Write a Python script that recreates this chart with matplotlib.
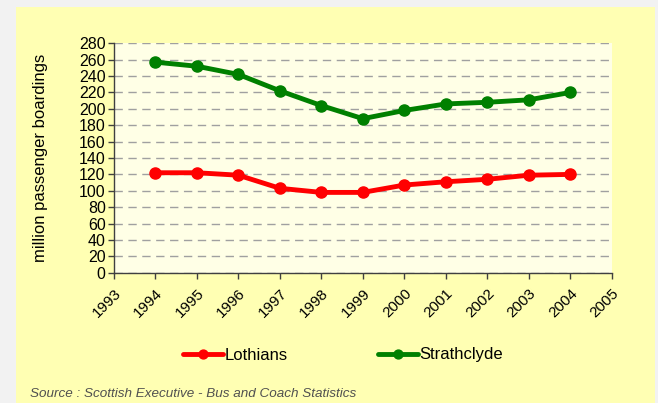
import matplotlib.pyplot as plt
from matplotlib.patches import Rectangle

# Bus passenger boardings, Lothians vs Strathclyde
years = [1994, 1995, 1996, 1997, 1998, 1999, 2000, 2001, 2002, 2003, 2004]
lothians = [122, 122, 119, 103, 98, 98, 107, 111, 114, 119, 120]
strathclyde = [257, 252, 242, 222, 204, 188, 198, 206, 208, 211, 220]
tick_years = list(range(1993, 2006))
y_ticks = list(range(0, 281, 20))

plt.rcParams['font.family'] = ['Liberation Sans', 'DejaVu Sans']

fig = plt.figure(figsize=(6.58, 4.03), dpi=100, facecolor='#F2F2F2')
W, H = 658, 403
# yellow chart area
fig.patches.append(Rectangle((16 / W, 0), (655 - 16) / W, (H - 7) / H,
                             transform=fig.transFigure, facecolor='#FFFFB3',
                             edgecolor='none', zorder=0))

ax = fig.add_axes([114 / W, 130.3 / H, (611.7 - 114) / W, (272.7 - 43.3) / H])
ax.set_zorder(2)
ax.set_facecolor('#FFFFE6')

ax.plot(years, lothians, color='#FF0000', lw=3.5, marker='o', ms=8,
        label='Lothians', solid_capstyle='round', clip_on=False)
ax.plot(years, strathclyde, color='#008000', lw=3.5, marker='o', ms=8,
        label='Strathclyde', solid_capstyle='round', clip_on=False)

ax.set_xlim(1993, 2005)
ax.set_ylim(0, 280)
ax.set_xticks(tick_years)
ax.set_xticklabels([str(y) for y in tick_years], rotation=45, ha='right',
                   rotation_mode='anchor', fontsize=11)
ax.set_yticks(y_ticks)
ax.set_yticklabels([str(v) for v in y_ticks], fontsize=11.5)
ax.yaxis.grid(True, color='#A0A0A0', linestyle=(0, (6, 4)), lw=1)
ax.set_axisbelow(True)
ax.tick_params(axis='both', length=4, width=1, color='#404040', pad=2)
ax.tick_params(axis='x', pad=6)

for s in ['top', 'right']:
    ax.spines[s].set_visible(False)
for s in ['left', 'bottom']:
    ax.spines[s].set_color('#404040')
    ax.spines[s].set_linewidth(1)

ax.set_ylabel('million passenger boardings', fontsize=12)
ax.yaxis.set_label_coords(-(114 - 48) / (611.7 - 114), 0.5)

leg = fig.legend(loc='center', bbox_to_anchor=(343 / W, 1 - 355 / H), ncol=2,
                 frameon=False, fontsize=12, handlelength=2.4, handletextpad=0.1,
                 columnspacing=5.4, markerscale=0.8)
leg.set_zorder(3)

fig.text(30 / W, 1 - 394 / H, 'Source : Scottish Executive - Bus and Coach Statistics',
         fontsize=9.7, style='italic', color='#505050', va='center', ha='left',
         zorder=3)

fig.savefig('out.png', dpi=100, facecolor=fig.get_facecolor())
